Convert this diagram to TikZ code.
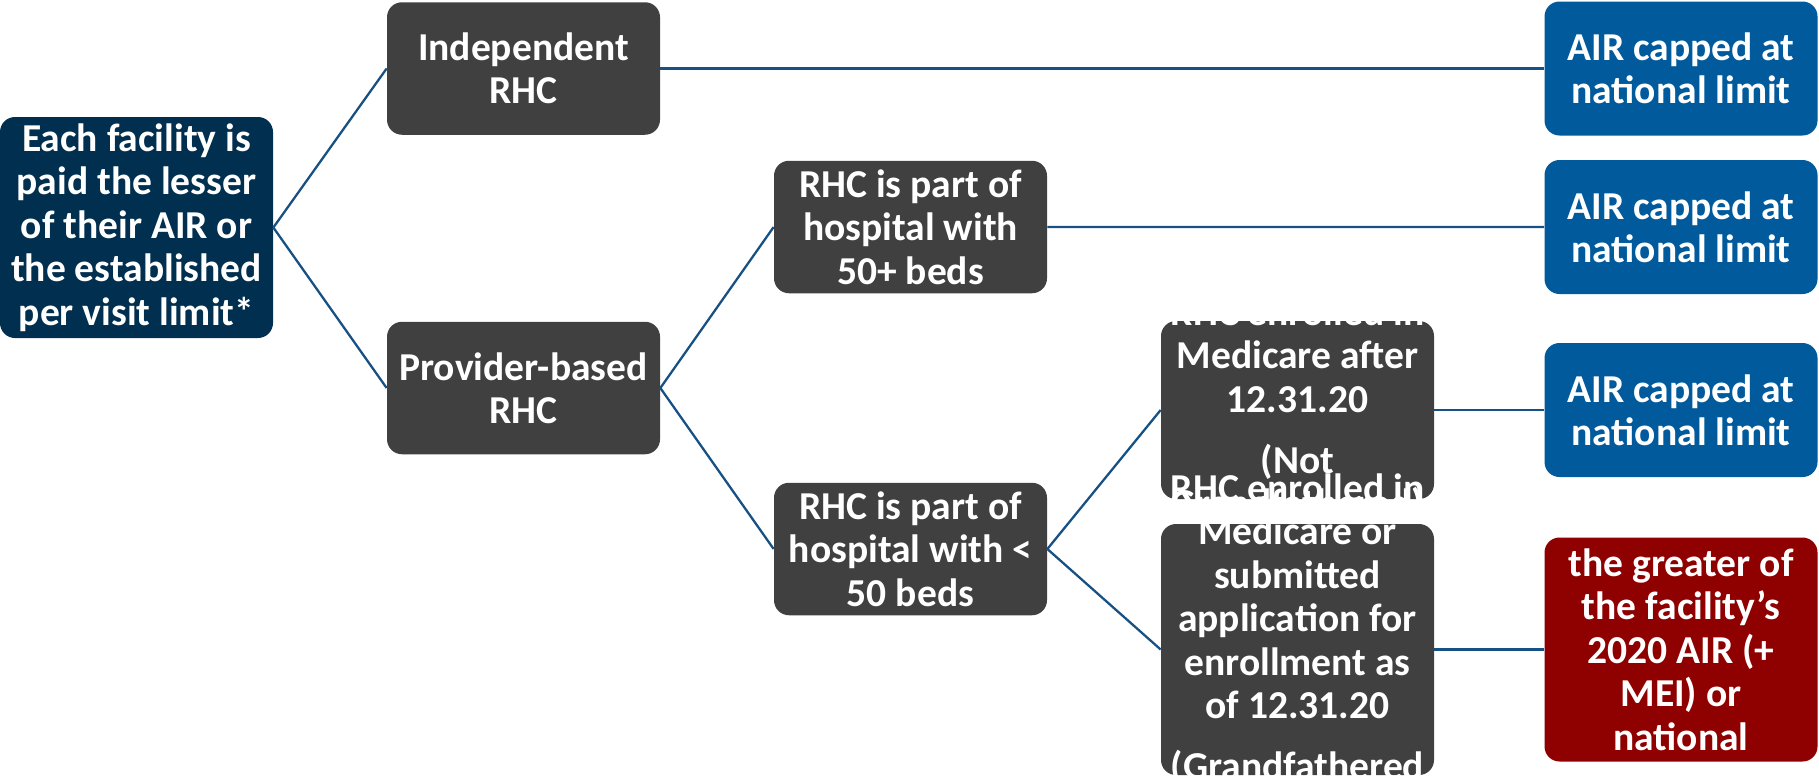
\documentclass[tikz,border=0pt]{standalone}
\usepackage{fontspec}
\setmainfont{Carlito}
\usepackage{tikz}
\usetikzlibrary{positioning,shapes.geometric}
\definecolor{navy}{RGB}{0,47,79}
\definecolor{boxgrey}{RGB}{64,64,64}
\definecolor{capblue}{RGB}{0,90,156}
\definecolor{capred}{RGB}{143,0,0}
\definecolor{linkblue}{RGB}{23,80,130}
\tikzstyle{box} = [rectangle, rounded corners=0.3cm, minimum width=5.46cm,
    inner sep=0pt, text=white, align=center,
    font=\bfseries\fontsize{22.5}{24.7}\selectfont]
\tikzstyle{rootbox} = [box, fill=navy, minimum height=4.42cm]
\tikzstyle{greybox} = [box, fill=boxgrey, minimum height=2.65cm]
\tikzstyle{capbox} = [box, fill=capblue, minimum height=2.68cm]
\tikzstyle{lbl} = [text=white, align=center, inner sep=0pt,
    font=\bfseries\fontsize{22.5}{24.7}\selectfont]
\tikzstyle{line} = [draw=linkblue, line width=1.3pt]

\begin{document}
\begin{tikzpicture}[node distance = 7.74cm, auto]
    \useasboundingbox (-2.73,4.55) rectangle (33.65,-11.11);
    % Place nodes
    \node [rootbox] (each) at (0,0) {Each facility is\\paid the lesser\\of their AIR or\\the established\\per visit limit*};
    \node [greybox, right of=each, yshift=3.18cm] (indep) {Independent\\RHC};
    \node [greybox, right of=each, yshift=-3.21cm] (prov) {Provider-based\\RHC};
    \node [greybox, right of=prov, yshift=3.22cm] (big) {RHC is part of\\hospital with\\50+ beds};
    \node [greybox, right of=prov, yshift=-3.22cm] (small) {RHC is part of\\hospital with <\\50 beds};
    \node [greybox, minimum height=3.56cm, right of=small, yshift=2.78cm] (after) {};
    \node [greybox, minimum height=5.02cm, right of=small, yshift=-2.01cm] (grand) {};
    \node [capbox, right of=after, xshift=-0.07cm, yshift=6.83cm] (capa) {AIR capped at\\national limit};
    \node [capbox, right of=after, xshift=-0.07cm, yshift=3.66cm] (capb) {AIR capped at\\national limit};
    \node [capbox, right of=after, xshift=-0.07cm] (capc) {AIR capped at\\national limit};
    \node [box, fill=capred, minimum height=4.48cm, right of=grand, xshift=-0.07cm] (greater) {the greater of\\the facility’s\\2020 AIR (+\\MEI) or\\national};
    % Draw edges
    \path [line] (each.east) -- (indep.west);
    \path [line] (each.east) -- (prov.west);
    \path [line] (indep) -- (capa);
    \path [line] (prov.east) -- (big.west);
    \path [line] (prov.east) -- (small.west);
    \path [line] (big) -- (capb);
    \path [line] (small.east) -- (after.west);
    \path [line] (small.east) -- (grand.west);
    \path [line] (after) -- (capc);
    \path [line] (grand) -- (greater);
    % overflowing texts
    \node [lbl] (aftertext) at (after) {RHC enrolled in\\Medicare after\\12.31.20\\[10pt](Not\\Grandfathered)};
    \node [lbl, yshift=0.4cm] (grandtext) at (grand) {RHC enrolled in\\Medicare or\\submitted\\application for\\enrollment as\\of 12.31.20\\[10pt](Grandfathered};
\end{tikzpicture}
\end{document}
